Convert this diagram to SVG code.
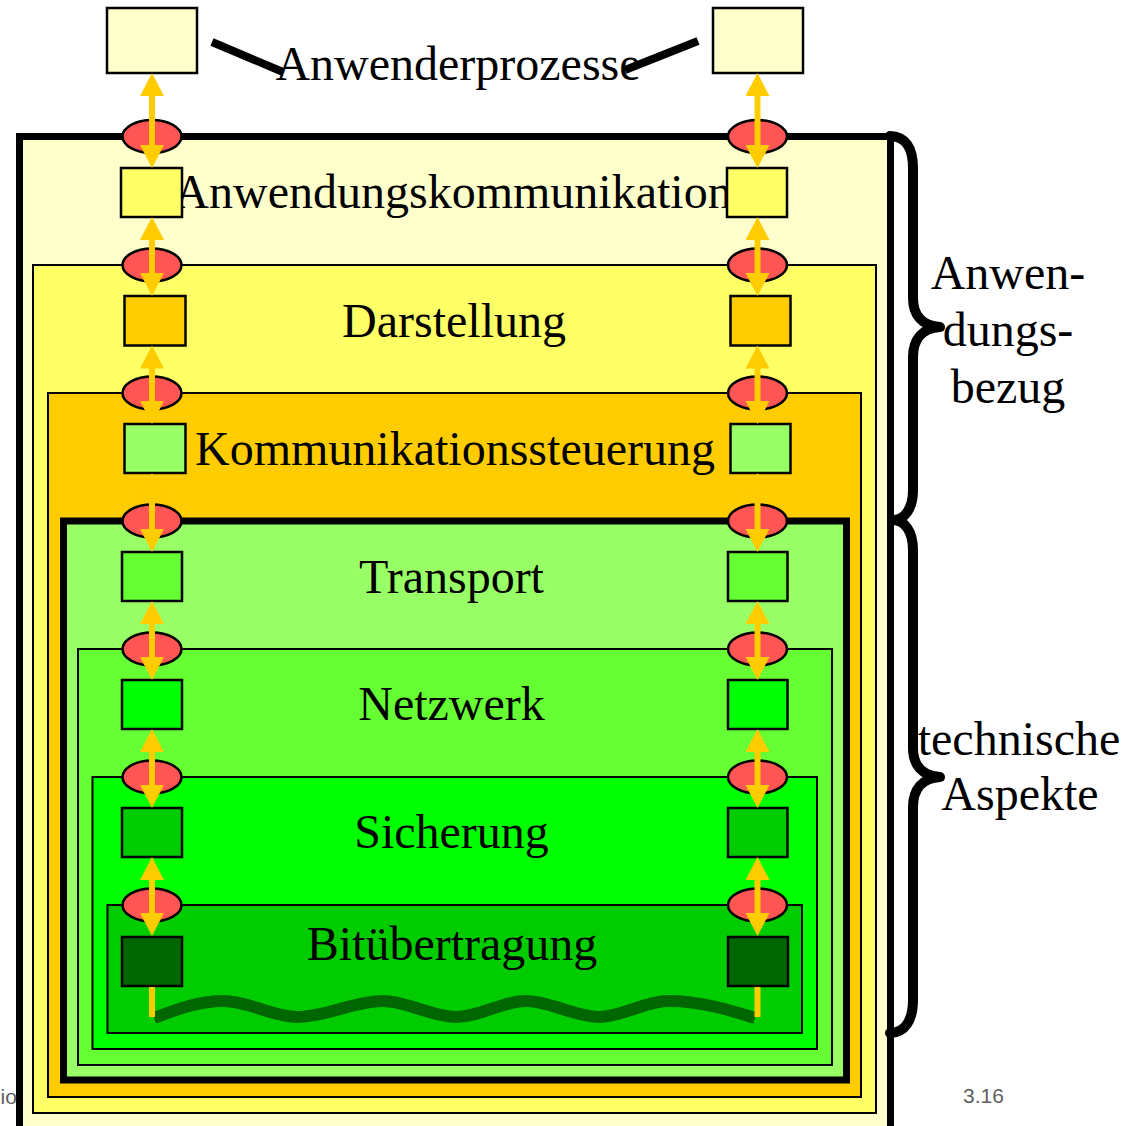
<svg xmlns="http://www.w3.org/2000/svg" width="1123" height="1126" viewBox="0 0 1123 1126">
<style>
.t{font-family:"Liberation Serif","Times New Roman",serif;font-size:48px;fill:#000;text-anchor:middle}
.s{font-family:"Liberation Sans",Arial,sans-serif;font-size:21px;fill:#5f5f5f}
.ly{stroke:#000;stroke-width:2}
.bx{stroke:#000;stroke-width:2.5}
.el{fill:#FF5555;stroke:#000;stroke-width:2.5}
.ar{stroke:#FFCC00;stroke-width:6;fill:none;marker-start:url(#ah);marker-end:url(#ah)}
.br{fill:none;stroke:#000;stroke-width:10;stroke-linecap:round;stroke-linejoin:round}
</style>
<defs>
<marker id="ah" markerUnits="userSpaceOnUse" markerWidth="24" markerHeight="24" viewBox="0 -12 24 24" refX="1" refY="0" orient="auto-start-reverse">
<path d="M0,-12 L23,0 L0,12 z" fill="#FFCC00"/>
</marker>
</defs>
<rect width="1123" height="1126" fill="#fff"/>

<g id="layer7">
<rect x="19.5" y="136.5" width="871" height="1000" fill="#FFFFCC" stroke="#000" stroke-width="7"/>
</g>
<g id="layer6">
<rect class="ly" x="33" y="265" width="843" height="848" fill="#FFFF66"/>
</g>
<g id="layer5">
<rect class="ly" x="48" y="393" width="813" height="704" fill="#FFCC00"/>
</g>
<g id="layer4">
<rect x="63.5" y="521" width="783" height="559" fill="#99FF66" stroke="#000" stroke-width="7"/>
</g>
<g id="layer3">
<rect class="ly" x="78" y="649" width="754" height="416" fill="#66FF33"/>
</g>
<g id="layer2">
<rect class="ly" x="92.5" y="777" width="724.5" height="272" fill="#00FF00"/>
</g>
<g id="layer1">
<rect class="ly" x="107.5" y="905" width="694.5" height="128" fill="#00CC00"/>
</g>

<g id="labels">
<text class="t" x="458" y="80">Anwenderprozesse</text>
<text class="t" x="453" y="208">Anwendungskommunikation</text>
<text class="t" x="454" y="337">Darstellung</text>
<text class="t" x="455" y="465">Kommunikationssteuerung</text>
<text class="t" x="451.5" y="593">Transport</text>
<text class="t" x="451.5" y="720">Netzwerk</text>
<text class="t" x="451.5" y="848">Sicherung</text>
<text class="t" x="452" y="960">Bitübertragung</text>
</g>

<g id="leaders">
<line x1="212" y1="42" x2="283" y2="72" stroke="#000" stroke-width="8"/>
<line x1="698" y1="41" x2="625" y2="70" stroke="#000" stroke-width="8"/>
</g>

<g id="boxes-left">
<rect class="bx" x="107" y="8" width="90" height="65" fill="#FFFFCC"/>
<rect class="bx" x="121" y="168" width="61" height="49" fill="#FFFF66"/>
<rect class="bx" x="124.5" y="296" width="61" height="49.5" fill="#FFCC00"/>
<rect class="bx" x="124.5" y="424" width="61" height="49" fill="#99FF66"/>
<rect class="bx" x="122" y="552" width="60" height="49" fill="#66FF33"/>
<rect class="bx" x="122" y="680" width="60" height="49" fill="#00FF00"/>
<rect class="bx" x="122" y="808" width="60" height="49" fill="#00CC00"/>
<rect class="bx" x="122" y="937" width="60" height="49" fill="#006600"/>
</g>
<g id="boxes-right">
<rect class="bx" x="713" y="8" width="90" height="65" fill="#FFFFCC"/>
<rect class="bx" x="727" y="168" width="60" height="49" fill="#FFFF66"/>
<rect class="bx" x="730.5" y="296" width="60" height="49.5" fill="#FFCC00"/>
<rect class="bx" x="730.5" y="424" width="60" height="49" fill="#99FF66"/>
<rect class="bx" x="728" y="552" width="59.5" height="49" fill="#66FF33"/>
<rect class="bx" x="728" y="680" width="59.5" height="49" fill="#00FF00"/>
<rect class="bx" x="728" y="808" width="59.5" height="49" fill="#00CC00"/>
<rect class="bx" x="728" y="937" width="60" height="49" fill="#006600"/>
</g>

<g id="interfaces">
<ellipse class="el" cx="152" cy="136.5" rx="29.5" ry="16.5"/>
<ellipse class="el" cx="152" cy="265" rx="29.5" ry="16.5"/>
<ellipse class="el" cx="152" cy="393" rx="29.5" ry="16.5"/>
<ellipse class="el" cx="152" cy="521" rx="29.5" ry="16.5"/>
<ellipse class="el" cx="152" cy="649" rx="29.5" ry="16.5"/>
<ellipse class="el" cx="152" cy="777" rx="29.5" ry="16.5"/>
<ellipse class="el" cx="152" cy="905" rx="29.5" ry="16.5"/>
<ellipse class="el" cx="757.5" cy="136.5" rx="29.5" ry="16.5"/>
<ellipse class="el" cx="757.5" cy="265" rx="29.5" ry="16.5"/>
<ellipse class="el" cx="757.5" cy="393" rx="29.5" ry="16.5"/>
<ellipse class="el" cx="757.5" cy="521" rx="29.5" ry="16.5"/>
<ellipse class="el" cx="757.5" cy="649" rx="29.5" ry="16.5"/>
<ellipse class="el" cx="757.5" cy="777" rx="29.5" ry="16.5"/>
<ellipse class="el" cx="757.5" cy="905" rx="29.5" ry="16.5"/>
</g>

<g id="connectors">
<line class="ar" x1="152" y1="95" x2="152" y2="146"/>
<line class="ar" x1="152" y1="239" x2="152" y2="274"/>
<line class="ar" x1="152" y1="367.5" x2="152" y2="402"/>
<line class="ar" x1="152" y1="495" x2="152" y2="530"/>
<line class="ar" x1="152" y1="623" x2="152" y2="658"/>
<line class="ar" x1="152" y1="751" x2="152" y2="786"/>
<line class="ar" x1="152" y1="879" x2="152" y2="914"/>
<line class="ar" x1="757.5" y1="95" x2="757.5" y2="146"/>
<line class="ar" x1="757.5" y1="239" x2="757.5" y2="274"/>
<line class="ar" x1="757.5" y1="367.5" x2="757.5" y2="402"/>
<line class="ar" x1="757.5" y1="495" x2="757.5" y2="530"/>
<line class="ar" x1="757.5" y1="623" x2="757.5" y2="658"/>
<line class="ar" x1="757.5" y1="751" x2="757.5" y2="786"/>
<line class="ar" x1="757.5" y1="879" x2="757.5" y2="914"/>
<path d="M154,1018 C180,1008 200,1001 224,1001 C248,1001 273,1017 297,1017 C326,1017 354,1001 383,1001 C407,1001 432,1017 456,1017 C480,1017 502,1001 526,1001 C550,1001 575,1017 599,1017 C622,1017 645,1001 668,1001 C700,1001 730,1010 755,1018" fill="none" stroke="#006600" stroke-width="12"/>
<line x1="152" y1="987" x2="152" y2="1017" stroke="#FFCC00" stroke-width="6"/>
<line x1="757.5" y1="987" x2="757.5" y2="1017" stroke="#FFCC00" stroke-width="6"/>
</g>

<g id="braces">
<path class="br" d="M890,136 C905,136 913,148 913,168 L913,298 C913,315 922,326 940,327 C922,328 913,340 913,357 L913,490 C913,508 905,520 893,520"/>
<path class="br" d="M893,520 C905,520 913,532 913,550 L913,748 C913,765 922,776 940,777 C922,778 913,790 913,807 L913,1000 C913,1020 905,1033 890,1033"/>
</g>

<g id="side-labels">
<text class="t" x="1008" y="289">Anwen-</text>
<text class="t" x="1008" y="346">dungs-</text>
<text class="t" x="1008" y="403">bezug</text>
<text class="t" x="1019" y="755">technische</text>
<text class="t" x="1020" y="810">Aspekte</text>
</g>

<g id="footer">
<text class="s" x="0.5" y="1104" font-size="19">io</text>
<text class="s" x="963" y="1103">3.16</text>
</g>
</svg>
